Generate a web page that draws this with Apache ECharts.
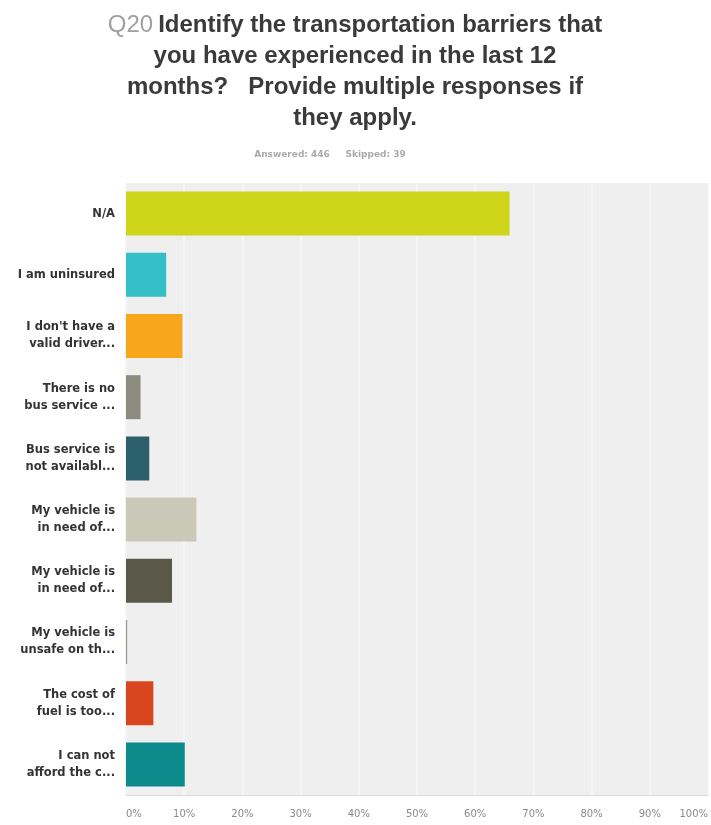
<!DOCTYPE html>
<html>
<head>
<meta charset="utf-8">
<script src="https://cdn.jsdelivr.net/npm/echarts@6/dist/echarts.min.js"></script>
<style>html,body{margin:0;padding:0;background:#fff;}#c{width:711px;height:825px;}</style>
</head>
<body>
<div id="c"></div>
<script>
const categories = [
  "N/A",
  "I am uninsured",
  "I don't have a\nvalid driver...",
  "There is no\nbus service ...",
  "Bus service is\nnot availabl...",
  "My vehicle is\nin need of...",
  "My vehicle is\nin need of...",
  "My vehicle is\nunsafe on th...",
  "The cost of\nfuel is too...",
  "I can not\nafford the c..."
];
const values = [65.9, 6.9, 9.7, 2.5, 4.0, 12.1, 7.9, 0.2, 4.7, 10.1];
const barColors = ["#cdd419", "#35bfc6", "#f8a71c", "#8b8c7e", "#2b5f6b", "#cac9b8", "#5a5849", "#9a9a8a", "#d8461f", "#0d8b8c"];
const xTicks = [0, 10, 20, 30, 40, 50, 60, 70, 80, 90, 100];

const chart = echarts.init(document.getElementById('c'), null, {renderer: 'canvas'});
chart.setOption({
  animation: false,
  backgroundColor: '#ffffff',
  title: [
    {
      text: '{q|Q20} {b|Identify the transportation barriers that}\n{b|you have experienced in the last 12}\n{b|months?   Provide multiple responses if}\n{b|they apply.}',
      left: 350,
      top: 5,
      textAlign: 'center',
      textStyle: {
        rich: {
          q: {fontFamily: 'Liberation Sans, Arial', fontSize: 24, color: '#a0a0a0', fontWeight: 'normal', lineHeight: 31},
          b: {fontFamily: 'Liberation Sans, Arial', fontSize: 24, color: '#3a3a3a', fontWeight: 'bold', lineHeight: 31}
        }
      }
    },
    {
      text: 'Answered: 446     Skipped: 39',
      left: 325,
      top: 145,
      textAlign: 'center',
      textStyle: {fontFamily: 'DejaVu Sans', fontSize: 9, color: '#aaaaaa', fontWeight: 'bold'}
    }
  ],
  grid: {
    left: 126, right: 0, top: 183, bottom: 30,
    show: true, backgroundColor: '#efefef', borderWidth: 0
  },
  xAxis: {
    type: 'value',
    min: xTicks[0],
    max: xTicks[xTicks.length - 1],
    interval: 10,
    axisLine: {show: true, lineStyle: {color: '#dadada', width: 1}},
    axisTick: {show: false},
    splitLine: {show: true, lineStyle: {color: '#f5f5f5', width: 2}},
    axisLabel: {
      formatter: '{value}%',
      color: '#8a8a8a',
      fontFamily: 'DejaVu Sans',
      fontSize: 10,
      margin: 14,
      alignMinLabel: 'left',
      alignMaxLabel: 'right'
    }
  },
  yAxis: {
    type: 'category',
    data: categories,
    inverse: true,
    axisLine: {show: false},
    axisTick: {show: false},
    splitLine: {show: false},
    axisLabel: {
      color: '#333333',
      fontFamily: 'DejaVu Sans',
      fontWeight: 'bold',
      fontSize: 11.5,
      lineHeight: 17,
      margin: 11
    }
  },
  series: [{
    type: 'bar',
    data: values.map((v, i) => ({value: v, itemStyle: {color: barColors[i]}})),
    barWidth: 44,
    silent: true
  }]
});
</script>
</body>
</html>
